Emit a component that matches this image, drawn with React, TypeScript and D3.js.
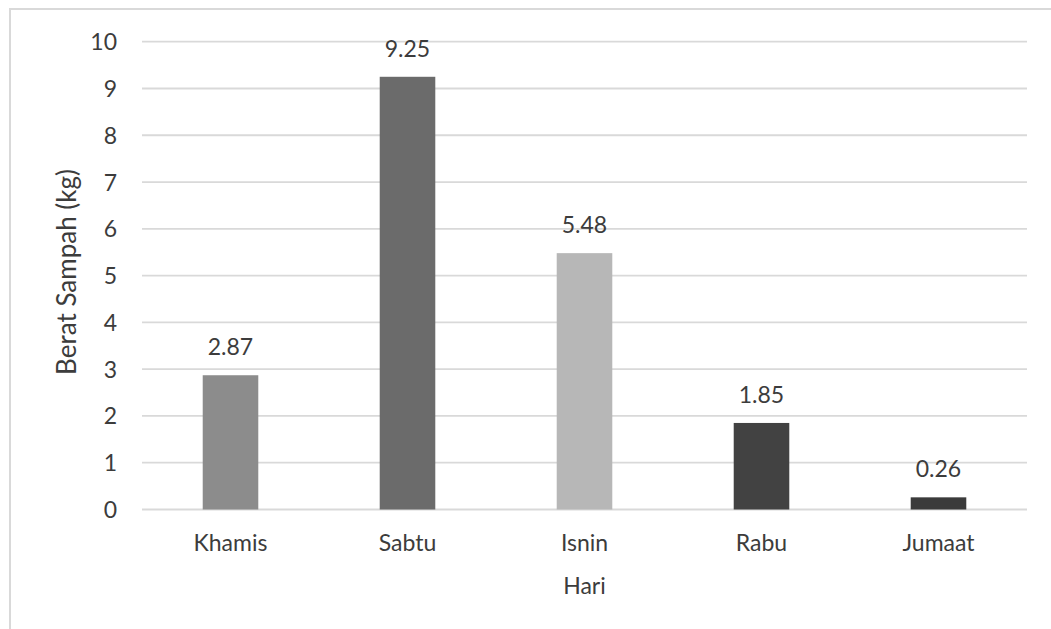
import React from "react";
import * as d3 from "d3";

// Daily waste weight (kg)
const days = ["Khamis", "Sabtu", "Isnin", "Rabu", "Jumaat"];
const weights = [2.87, 9.25, 5.48, 1.85, 0.26];
const barColors = ["#8c8c8c", "#6b6b6b", "#b7b7b7", "#424242", "#3b3b3b"];
const yTicks = [0, 1, 2, 3, 4, 5, 6, 7, 8, 9, 10];
const xTitle = "Hari";
const yTitle = "Berat Sampah (kg)";

const W = 1051;
const H = 629;
const plot = { left: 142, right: 1027, top: 41.7, bottom: 509.5 };
const FONT = "Lato, 'Open Sans', sans-serif";
const TEXT = "#3c3c3c";

export default function App() {
  const x = d3
    .scaleBand<string>()
    .domain(days)
    .range([plot.left, plot.right])
    .paddingInner(0.686)
    .paddingOuter(0.343);
  const y = d3.scaleLinear().domain([0, 10]).range([plot.bottom, plot.top]);

  return (
    <svg
      width={W}
      height={H}
      style={{ position: "absolute", left: 0, top: 0, background: "#fff" }}
      fontFamily={FONT}
    >
      {/* chart frame */}
      <rect x={10} y={9} width={W + 20} height={H + 20} fill="#fff" stroke="#d9d9d9" strokeWidth={2} />

      {/* horizontal gridlines */}
      {yTicks.map((t) => (
        <line
          key={t}
          x1={plot.left}
          x2={plot.right}
          y1={y(t)}
          y2={y(t)}
          stroke="#d9d9d9"
          strokeWidth={1.8}
        />
      ))}

      {/* y tick labels */}
      {yTicks.map((t) => (
        <text
          key={t}
          x={117}
          y={y(t) + 8.5}
          textAnchor="end"
          fontSize={23}
          fill={TEXT}
        >
          {t}
        </text>
      ))}

      {/* bars */}
      {days.map((d, i) => (
        <rect
          key={d}
          x={x(d)}
          y={y(weights[i])}
          width={x.bandwidth()}
          height={y(0) - y(weights[i])}
          fill={barColors[i]}
        />
      ))}

      {/* value labels */}
      {days.map((d, i) => (
        <text
          key={d}
          x={(x(d) as number) + x.bandwidth() / 2}
          y={y(weights[i]) - 20}
          textAnchor="middle"
          fontSize={23}
          fill={TEXT}
        >
          {weights[i].toFixed(2)}
        </text>
      ))}

      {/* category labels */}
      {days.map((d) => (
        <text
          key={d}
          x={(x(d) as number) + x.bandwidth() / 2}
          y={551}
          textAnchor="middle"
          fontSize={23}
          fill={TEXT}
        >
          {d}
        </text>
      ))}

      {/* axis titles */}
      <text
        x={(plot.left + plot.right) / 2}
        y={594}
        textAnchor="middle"
        fontSize={23}
        fill={TEXT}
      >
        {xTitle}
      </text>
      <text
        transform={`translate(76, 272) rotate(-90)`}
        textAnchor="middle"
        fontSize={26}
        fill={TEXT}
      >
        {yTitle}
      </text>
    </svg>
  );
}
